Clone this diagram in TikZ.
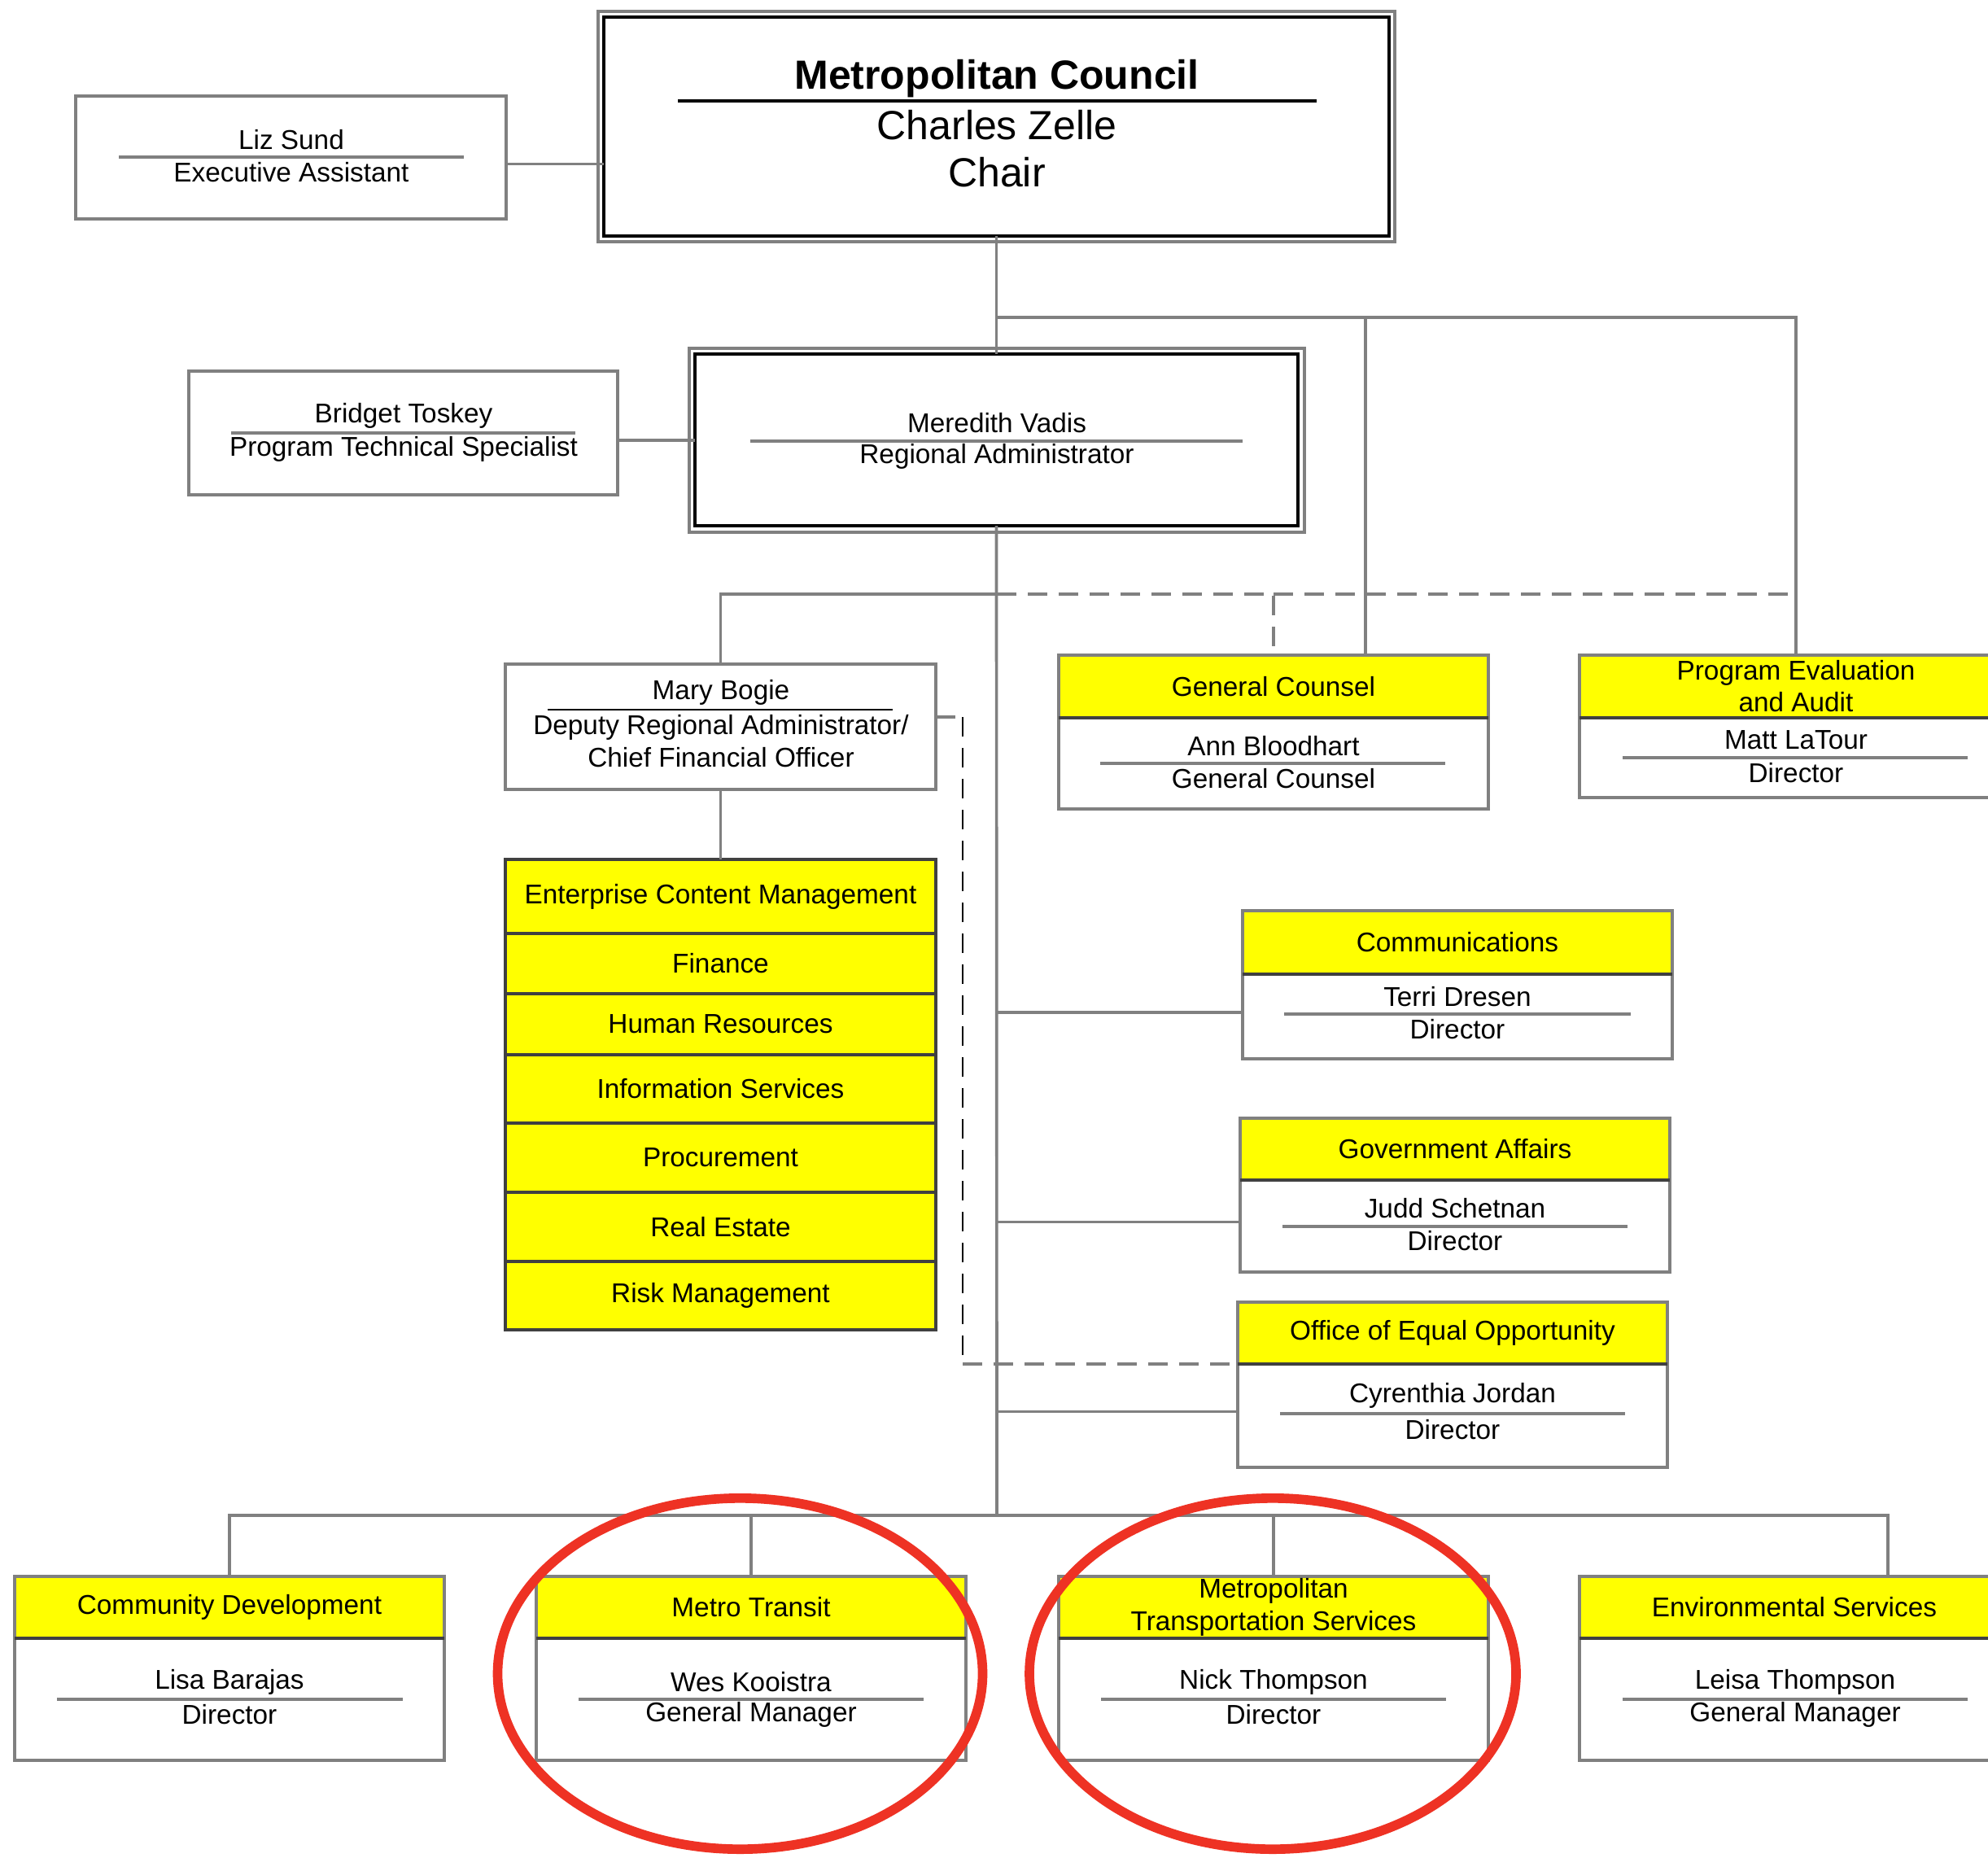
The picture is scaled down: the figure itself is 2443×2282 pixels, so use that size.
\documentclass[tikz,border=0pt]{standalone}
\usepackage{fontspec}
\setmainfont{Liberation Sans}
\usetikzlibrary{positioning,calc}
\definecolor{linegray}{RGB}{128,128,128}
\definecolor{hdryellow}{RGB}{255,255,0}
\definecolor{sepdark}{RGB}{64,64,64}
\definecolor{markred}{RGB}{238,50,36}
\begin{document}
\begin{tikzpicture}[x=0.3pt,y=-0.3pt,
  box/.style={draw=linegray,line width=1.2pt,fill=white,inner sep=0pt,outer sep=0pt,minimum width=158.4pt},
  hdr/.style={box,fill=hdryellow,font=\fontsize{10}{12}\selectfont,align=center},
  row/.style={draw=sepdark,line width=1.1pt,fill=hdryellow,inner sep=0pt,outer sep=0pt,minimum width=158.7pt,font=\fontsize{10}{12}\selectfont},
  txt/.style={inner sep=0pt,font=\fontsize{10}{12}\selectfont,align=center},
  big/.style={inner sep=0pt,font=\fontsize{15}{18}\selectfont},
  link/.style={draw=linegray,line width=1.1pt},
  dashlink/.style={link,dash pattern=on 7.2pt off 4.2pt},
  uline/.style={draw=linegray,line width=1.1pt},
  sep/.style={draw=sepdark,line width=1.4pt},
  ring/.style={draw=markred,line width=3.5pt}]

\useasboundingbox (0,0) rectangle (2443,2282);
\clip (0,0) rectangle (2443,2282);
\fill[white] (0,0) rectangle (2443,2282);

% Consejo
\node[draw=black,line width=1pt,minimum width=289.5pt,minimum height=80.7pt,inner sep=0pt,outer sep=0pt] (chair) at (1224.5,155.5) {};
\draw[linegray,line width=1.3pt] ([shift={(-7,-7)}]chair.north west) rectangle ([shift={(7,7)}]chair.south east);
\node[big,font=\fontsize{15}{18}\selectfont\bfseries] (chair-org) at (1225,97) {Metropolitan Council};
\draw[black,line width=1pt] (833,124) -- (1618,124);
\node[big] (chair-name) at (1225,154) {Charles Zelle};
\node[big] (chair-role) at (1225,212) {Chair};

\node[box,minimum width=158.7pt,minimum height=45.3pt] (liz) at (357.5,193.5) {};
\draw[uline] (146,193) -- (570,193);
\node[txt] (liz-n) at (358,172) {Liz Sund};
\node[txt] (liz-t) at (358,212) {Executive Assistant};

% Administrador regional
\node[draw=black,line width=1pt,minimum width=222.3pt,minimum height=63.3pt,inner sep=0pt,outer sep=0pt] (ra) at (1224.5,540.5) {};
\draw[linegray,line width=1.3pt] ([shift={(-7,-7)}]ra.north west) rectangle ([shift={(8,8)}]ra.south east);
\draw[uline] (922,542) -- (1527,542);
\node[txt] (ra-n) at (1225,520) {Meredith Vadis};
\node[txt] (ra-t) at (1225,561) {Regional Administrator};

\node[box,minimum width=158.1pt,minimum height=45.6pt] (pts) at (495.5,532) {};
\draw[uline] (284,532) -- (707,532);
\node[txt] (pts-n) at (496,511) {Bridget Toskey};
\node[txt] (pts-t) at (496,552) {Program Technical Specialist};

% CFO y unidades
\node[box,minimum width=158.7pt,minimum height=46.2pt] (cfo) at (885.5,893) {};
\draw[black,line width=0.6pt] (673,872) -- (1097,872);
\node[txt] (cfo-n) at (886,851) {Mary Bogie};
\node[txt] (cfo-t) at (886,911) {Deputy Regional Administrator/\\Chief Financial Officer};

\node[row,minimum height=27.3pt] (ecm) at (885.5,1101.5) {Enterprise Content Management};
\node[row,minimum height=22.2pt,below=0pt of ecm] (fin) {Finance};
\node[row,minimum height=22.5pt,below=0pt of fin] (hr) {Human Resources};
\node[row,minimum height=25.2pt,below=0pt of hr] (is) {Information Services};
\node[row,minimum height=25.5pt,below=0pt of is] (proc) {Procurement};
\node[row,minimum height=25.5pt,below=0pt of proc] (re) {Real Estate};
\node[row,minimum height=25.2pt,below=0pt of re] (risk) {Risk Management};

% Oficinas de staff
\node[hdr,minimum height=23.1pt] (gc-h) at (1565,843.5) {General Counsel};
\node[box,minimum height=33.6pt,below=0pt of gc-h] (gc) {};
\draw[sep] (gc-h.south west) -- (gc-h.south east);
\draw[uline] (1352,938) -- (1776,938);
\node[txt] (gc-n) at (1565,917) {Ann Bloodhart};
\node[txt] (gc-t) at (1565,957) {General Counsel};

\node[hdr,font=\fontsize{10}{11.7}\selectfont,minimum width=159.6pt,minimum height=23.1pt] (pea-h) at (2207,843.5) {Program Evaluation\\and Audit};
\node[box,minimum width=159.6pt,minimum height=29.4pt,below=0pt of pea-h] (pea) {};
\draw[sep] (pea-h.south west) -- (pea-h.south east);
\draw[uline] (1994,931) -- (2418,931);
\node[txt] (pea-n) at (2207,909) {Matt LaTour};
\node[txt] (pea-t) at (2207,950) {Director};

\node[hdr,minimum height=23.4pt] (comm-h) at (1791,1158) {Communications};
\node[box,minimum height=31.2pt,below=0pt of comm-h] (comm) {};
\draw[sep] (comm-h.south west) -- (comm-h.south east);
\draw[uline] (1578,1246) -- (2004,1246);
\node[txt] (comm-n) at (1791,1225) {Terri Dresen};
\node[txt] (comm-t) at (1791,1265) {Director};

\node[hdr,minimum height=22.8pt] (gov-h) at (1788,1412) {Government Affairs};
\node[box,minimum height=33.9pt,below=0pt of gov-h] (gov) {};
\draw[sep] (gov-h.south west) -- (gov-h.south east);
\draw[uline] (1576,1507) -- (2000,1507);
\node[txt] (gov-n) at (1788,1485) {Judd Schetnan};
\node[txt] (gov-t) at (1788,1525) {Director};

\node[hdr,minimum height=22.8pt] (oeo-h) at (1785,1638) {Office of Equal Opportunity};
\node[box,minimum height=38.1pt,below=0pt of oeo-h] (oeo) {};
\draw[sep] (oeo-h.south west) -- (oeo-h.south east);
\draw[uline] (1573,1737) -- (1997,1737);
\node[txt] (oeo-n) at (1785,1715) {Cyrenthia Jordan};
\node[txt] (oeo-t) at (1785,1757) {Director};

% Divisiones
\node[hdr,minimum height=22.8pt] (cd-h) at (282,1975) {Community Development};
\node[box,minimum height=45pt,below=0pt of cd-h] (cd) {};
\draw[sep] (cd-h.south west) -- (cd-h.south east);
\draw[uline] (70,2088) -- (495,2088);
\node[txt] (cd-n) at (282,2067) {Lisa Barajas};
\node[txt] (cd-t) at (282,2107) {Director};

\node[hdr,minimum height=22.8pt] (mt-h) at (923,1975) {Metro Transit};
\node[box,minimum height=45pt,below=0pt of mt-h] (mt) {};
\draw[sep] (mt-h.south west) -- (mt-h.south east);
\draw[uline] (711,2088) -- (1135,2088);
\node[txt] (mt-n) at (923,2067) {Wes Kooistra};
\node[txt] (mt-t) at (923,2107) {General Manager};

\node[hdr,font=\fontsize{10}{12}\selectfont,minimum height=22.8pt] (mts-h) at (1565,1975) {Metropolitan\\Transportation Services};
\node[box,minimum height=45pt,below=0pt of mts-h] (mts) {};
\draw[sep] (mts-h.south west) -- (mts-h.south east);
\draw[uline] (1353,2088) -- (1777,2088);
\node[txt] (mts-n) at (1565,2067) {Nick Thompson};
\node[txt] (mts-t) at (1565,2107) {Director};

\node[hdr,minimum height=22.8pt] (es-h) at (2205,1975) {Environmental Services};
\node[box,minimum height=45pt,below=0pt of es-h] (es) {};
\draw[sep] (es-h.south west) -- (es-h.south east);
\draw[uline] (1994,2088) -- (2418,2088);
\node[txt] (es-n) at (2206,2067) {Leisa Thompson};
\node[txt] (es-t) at (2206,2107) {General Manager};

% Lineas
\coordinate (bus1) at (1225,390);
\coordinate (gcin) at (1678,805);
\coordinate (br) at (1225,730);
\coordinate (bus2) at (1225,1862);
\coordinate (esin) at (2320,1937);
\draw[link] ($(liz.east)+(0,8)$) -- ($(liz.east -| chair.west)+(0,8)$);
\draw[link] ($(pts.east)+(0,9)$) -- ($(pts.east -| ra.west)+(0,9)$);
\draw[link] (chair.south) -- (ra.north);
\draw[link] (bus1) -| (pea-h.north);
\draw[link] (gcin |- bus1) -- (gcin);
\draw[link] (ra.south) -- (bus2);
\draw[link] (br) -| (cfo.north);
\draw[link] (cfo.south) -- (ecm.north);
\draw[dashlink] (br) -| (gc-h.north);
\draw[dashlink] (gc-h.north |- br) -- (pea-h.north |- br);
\coordinate (dA) at ($(cfo.east)+(0,-12)$);
\coordinate (dB) at ($(dA)+(33,0)$);
\draw[dashlink] (dA) -- (dB);
\draw[dashlink,draw=black,line width=0.8pt] (dB) -- (dB |- oeo-h.south);
\draw[dashlink] (dB |- oeo-h.south) -- (oeo-h.south west);
\draw[link] ($(comm.west -| bus2)+(0,-5)$) -- ($(comm.west)+(0,-5)$);
\draw[link] ($(gov.west -| bus2)+(0,-5)$) -- ($(gov.west)+(0,-5)$);
\draw[link] ($(oeo.west -| bus2)+(0,-5)$) -- ($(oeo.west)+(0,-5)$);
\draw[link] (cd-h.north) |- (esin |- bus2) -- (esin);
\draw[link] (mt-h.north) -- (mt-h.north |- bus2);
\draw[link] (mts-h.north) -- (mts-h.north |- bus2);

% Marcas rojas
\draw[ring] (909.5,2056.5) ellipse [x radius=89.4pt,y radius=64.7pt];
\draw[ring] (1564,2056.5) ellipse [x radius=89.7pt,y radius=64.7pt];
\end{tikzpicture}
\end{document}
